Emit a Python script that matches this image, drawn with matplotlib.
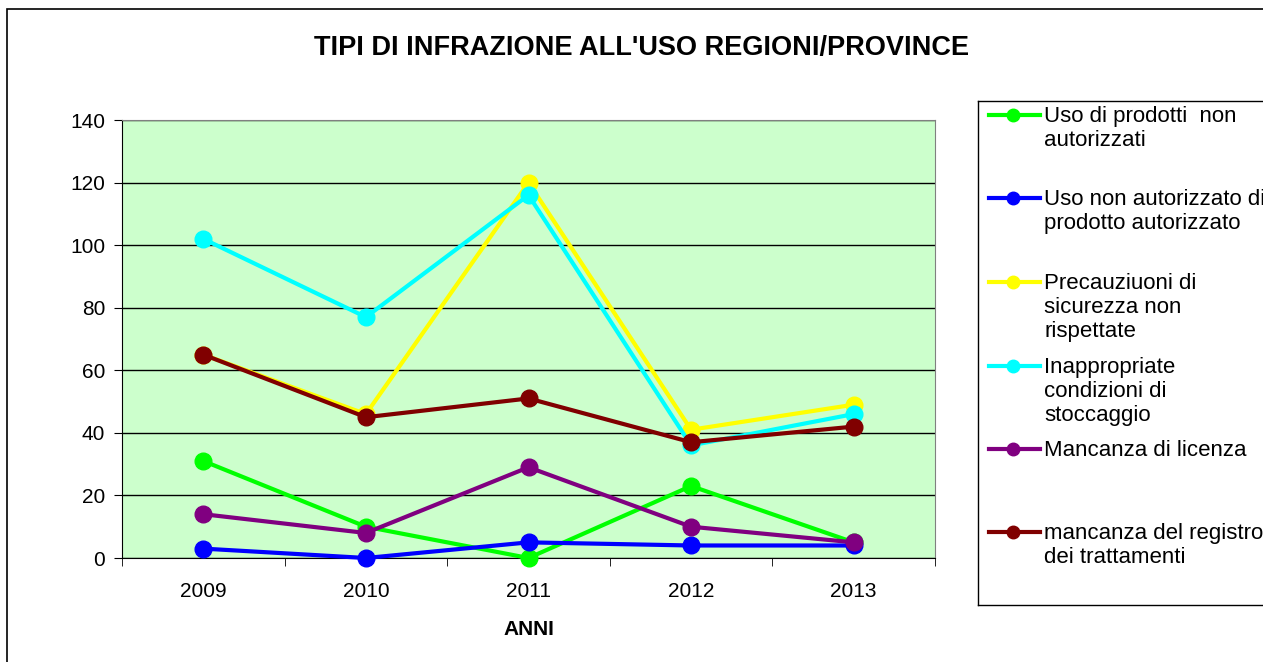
import matplotlib.pyplot as plt
from matplotlib.patches import Rectangle

plt.rcParams['font.family'] = ['Liberation Sans', 'DejaVu Sans']

anni = ['2009', '2010', '2011', '2012', '2013']
uso_non_autorizzati = [31, 10, 0, 23, 5]
uso_non_autorizzato_prodotto = [3, 0, 5, 4, 4]
precauzioni = [65, 46, 120, 41, 49]
stoccaggio = [102, 77, 116, 36, 46]
licenza = [14, 8, 29, 10, 5]
registro = [65, 45, 51, 37, 42]

serie = [
    ('Uso di prodotti  non\nautorizzati', uso_non_autorizzati, '#00FF00'),
    ('Uso non autorizzato di\nprodotto autorizzato', uso_non_autorizzato_prodotto, '#0000FF'),
    ('Precauziuoni di\nsicurezza non\nrispettate', precauzioni, '#FFFF00'),
    ('Inappropriate\ncondizioni di\nstoccaggio', stoccaggio, '#00FFFF'),
    ('Mancanza di licenza', licenza, '#800080'),
    ('mancanza del registro\ndei trattamenti', registro, '#800000'),
]

W, H = 1263, 662
fig = plt.figure(figsize=(W / 100, H / 100), dpi=100)

# bordo esterno (continua oltre i bordi dell'immagine)
fig.patches.append(Rectangle((7 / W, -0.1), 1.2, (H - 9) / H + 0.1, transform=fig.transFigure,
                             fill=False, edgecolor='black', linewidth=1.2, clip_on=False))

ax = fig.add_axes([122 / W, (H - 558) / H, (935 - 122) / W, (558 - 120) / H])
ax.set_facecolor('#CCFFCC')
x = list(range(len(anni)))
for nome, valori, col in serie:
    ax.plot(x, valori, '-o', color=col, linewidth=3, markersize=12, clip_on=False, zorder=3)

ax.set_xlim(-0.5, len(anni) - 0.5)
ax.set_ylim(0, 140)
ax.set_yticks(range(0, 141, 20))
ax.yaxis.grid(True, color='black', linewidth=1)
ax.set_axisbelow(True)
ax.set_xticks(x)
ax.set_xticklabels(anni)
ax.tick_params(axis='x', length=0, labelsize=15, pad=17)
ax.set_xticks([i - 0.5 for i in range(len(anni) + 1)], minor=True)
ax.tick_params(axis='x', which='minor', length=6, direction='out')
ax.tick_params(axis='y', labelsize=15, length=6, direction='out', pad=6)
for s in ['top', 'right']:
    ax.spines[s].set_color('#808080')
ax.spines['left'].set_color('black')
ax.spines['bottom'].set_color('black')
ax.set_xlabel('ANNI', fontsize=15, fontweight='bold', labelpad=14)

fig.text(642 / W, 1 - 48 / H, "TIPI DI INFRAZIONE ALL'USO REGIONI/PROVINCE",
         ha='center', va='center', fontsize=19.5, fontweight='bold')

# legenda
lg = fig.add_axes([978 / W, (H - 605) / H, (1290 - 978) / W, (605 - 101) / H])
lg.set_xlim(978, 1290)
lg.set_ylim(605, 101)
lg.set_xticks([])
lg.set_yticks([])
for s in lg.spines.values():
    s.set_color('black')
    s.set_linewidth(1)
posizioni = [115, 198, 282, 366, 449, 532]
for (nome, valori, col), yy in zip(serie, posizioni):
    lg.plot([989, 1040], [yy, yy], '-', color=col, linewidth=3)
    lg.plot([1013], [yy], 'o', color=col, markersize=9)
    lg.text(1044, yy - 9, nome, fontsize=16, va='top', ha='left', linespacing=1.2)

fig.savefig('out.png', dpi=100)
